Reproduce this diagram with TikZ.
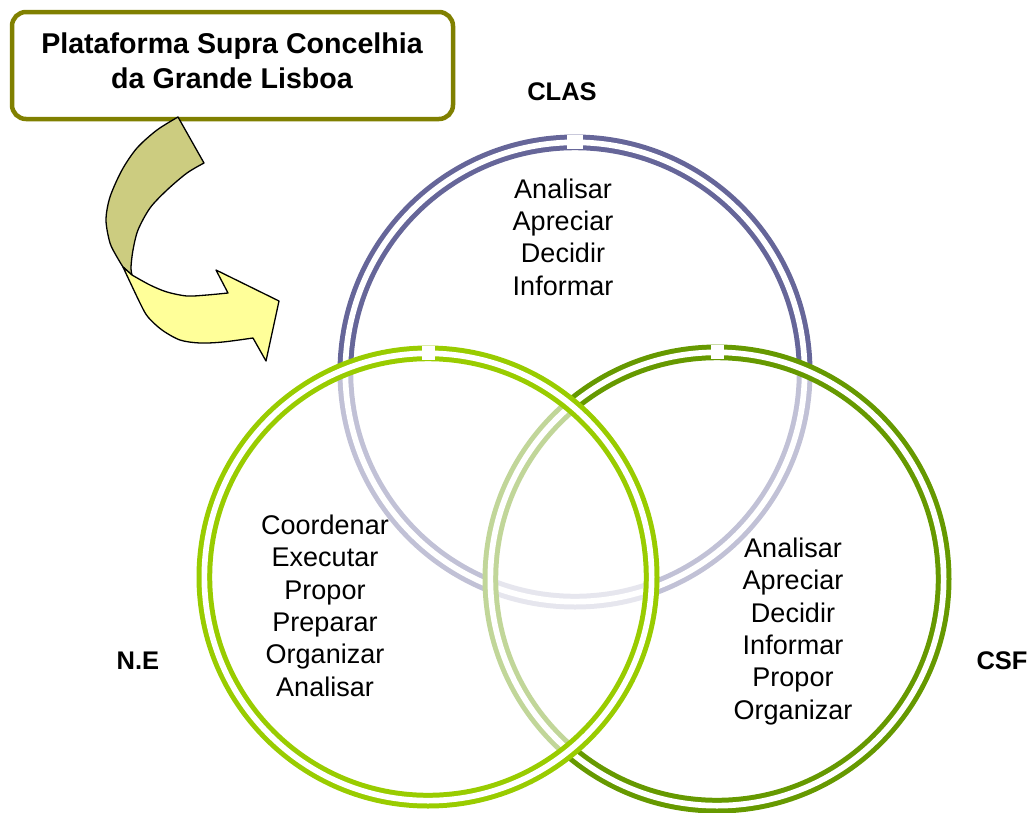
\documentclass[tikz,border=0pt]{standalone}
\usepackage{fontspec}
\setmainfont{Liberation Sans}
\definecolor{clasc}{HTML}{666699}
\definecolor{nec}{HTML}{99CC00}
\definecolor{csfc}{HTML}{669900}
\definecolor{boxc}{HTML}{808000}
\definecolor{arrowback}{HTML}{CCCC80}
\definecolor{arrowfront}{HTML}{FFFF99}
\begin{document}
\begin{tikzpicture}[x=1pt,y=-1pt,
  ring/.style={circle, draw=#1, line width=5pt, double=white, double distance=5.7pt, inner sep=0pt, outer sep=0pt},
  fade/.style={fill=white, fill opacity=0.6},
  gapmark/.style={fill=white, inner sep=0pt, minimum width=13pt, minimum height=14pt},
  txt/.style={font=\fontsize{27}{32.3}\selectfont, align=center, inner sep=0pt, anchor=base},
  lbl/.style={font=\fontsize{25.5}{30}\selectfont\bfseries, inner sep=0pt, anchor=base},
  titlebox/.style={draw=boxc, line width=4.5pt, rounded corners=14pt, fill=white, inner sep=0pt, minimum width=441pt, minimum height=107pt},
  titletext/.style={font=\fontsize{28.6}{35}\selectfont\bfseries, align=center, inner sep=0pt, anchor=base},
  arrowline/.style={draw=black, line width=1.3pt, line join=round}]
\useasboundingbox (0,0) rectangle (1029,812);

% CLAS ring (bottom layer)
\node[ring=clasc, minimum size=459.3pt] (clas) at (575,372) {};
% CSF ring with fading fill
\node[ring=csfc, fade, minimum size=453.3pt] (csf) at (717,579) {};
% N.E ring with fading fill
\node[ring=nec, fade, minimum size=447.3pt] (ne) at (428,577) {};

% small gaps at the top of the rings
\node[gapmark, minimum width=16pt] (clasmark) at (clas.north) {};
\node[gapmark] (csfmark) at (csf.north) {};
\node[gapmark] (nemark) at (ne.north) {};

% texts inside the circles (anchor = baseline of the last line)
\node[txt] (clastext) at (563,295) {Analisar\\Apreciar\\Decidir\\Informar};
\node[txt] (netext) at (325,696) {Coordenar\\Executar\\Propor\\Preparar\\Organizar\\Analisar};
\node[txt] (csftext) at (793,719) {Analisar\\Apreciar\\Decidir\\Informar\\Propor\\Organizar};

% labels
\node[lbl] (clasl) at (562,100) {CLAS};
\node[lbl] (nel) at (138,669) {N.E};
\node[lbl] (csfl) at (1002,669) {CSF};

% title box
\node[titlebox] (box) at (232.5,65.5) {};
\node[titletext] (title) at (232,88) {Plataforma Supra Concelhia\\da Grande Lisboa};

% curved arrow: back (olive) part
\filldraw[arrowline, fill=arrowback]
  plot[smooth] coordinates {(204,163) (187,173) (167,190) (150,208) (138,230) (133,250) (131,267) (132,275)}
  -- plot[smooth] coordinates {(123,267) (117,257) (110,243) (106,220) (110,197) (122,170) (137,148) (157,130) (178,117)}
  -- cycle;
% curved arrow: front (yellow) part with head
\filldraw[arrowline, fill=arrowfront]
  plot[smooth] coordinates {(123,267) (140,303) (148,317) (162,330) (180,340) (200,343) (223,342) (253,338)}
  -- (266,361) -- (279,301) -- (216,270)
  -- plot[smooth] coordinates {(228,293) (207,295) (187,296) (167,292) (150,285) (132,275)}
  -- cycle;
\end{tikzpicture}
\end{document}
